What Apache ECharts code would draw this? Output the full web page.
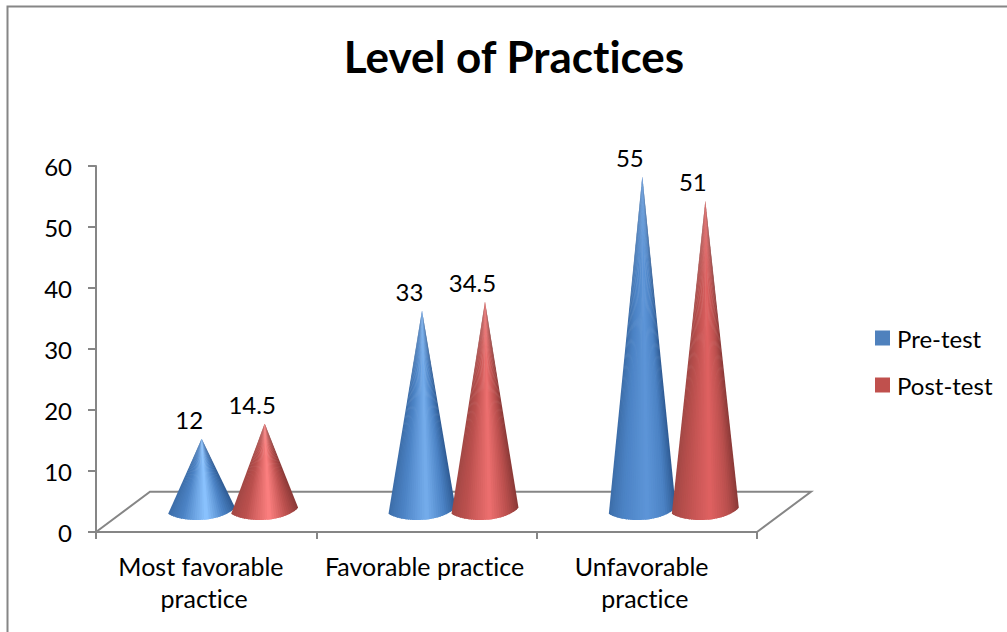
<!DOCTYPE html>
<html>
<head>
<meta charset="utf-8">
<title>Level of Practices</title>
<script src="https://cdn.jsdelivr.net/npm/echarts@6/dist/echarts.min.js"></script>
<style>
  html, body { margin: 0; padding: 0; background: #fff; }
  #chart { width: 1007px; height: 632px; }
  #chart text { font-variant-ligatures: none; }
</style>
</head>
<body>
<div id="chart"></div>
<script>
const categories = ['Most favorable practice', 'Favorable practice', 'Unfavorable practice'];
const preTest = [12, 33, 55];
const postTest = [14.5, 34.5, 51];

const FONT = 'Lato, "Open Sans", sans-serif';
const AXIS_GREY = '#868686';

// Depth of the chart floor: horizontal share of a category band, and height in value units.
const DEPTH_X = 0.245;
const DEPTH_VALUE = 6.6;
const CONE_SHIFT = 0.143;      // cone centre offset from the band centre, in bands
const CONE_HALF_WIDTH = 0.152; // base half width, in bands
const SLICES = 32;
const PEAK = 0.56;             // where the highlight sits across the cone

function hex(c) { return [1, 3, 5].map(i => parseInt(c.substr(i, 2), 16)); }
function toHex(v) { return ('0' + Math.round(v).toString(16)).slice(-2); }
function mix(a, b, t) {
  const A = hex(a), B = hex(b);
  return '#' + A.map((v, i) => toHex(v + (B[i] - v) * t)).join('');
}
function shadeAt(stops, t) {
  for (let i = 1; i < stops.length; i++) {
    if (t <= stops[i][0]) {
      const s = (t - stops[i - 1][0]) / (stops[i][0] - stops[i - 1][0]);
      return mix(stops[i - 1][1], stops[i][1], s);
    }
  }
  return stops[stops.length - 1][1];
}

const BLUE = { edgeL: '#3c6da8', side: '#4b82c4', edgeR: '#2e5a92', low: '#8cc4ff', high: '#5d95d8' };
const RED = { edgeL: '#a14744', side: '#bb504e', edgeR: '#883836', low: '#ff8282', high: '#dc5e5e' };

// Floor outline: the two receding sides and the back edge; the front edge is the category axis.
function renderFloor(params, api) {
  const cs = params.coordSys;
  const band = cs.width / categories.length;
  const y0 = api.coord([0, 0])[1];
  const dx = band * DEPTH_X;
  const dy = api.size([0, DEPTH_VALUE])[1];
  return {
    type: 'polyline',
    shape: { points: [
      [cs.x, y0], [cs.x + dx, y0 - dy],
      [cs.x + cs.width + dx, y0 - dy], [cs.x + cs.width, y0]
    ] },
    style: { stroke: AXIS_GREY, lineWidth: 2, fill: 'none' }
  };
}

// One cone: wedges from the apex to a curved base give the rounded shading.
// Outer wedges are painted first and each reaches under its inner neighbour, so no seams show.
function coneRenderer(side, palette) {
  return function (params, api) {
    const idx = api.value(0);
    const value = api.value(1);
    const band = api.size([1, 0])[0];
    const dy = api.size([0, DEPTH_VALUE])[1] / 2;
    const dx = band * DEPTH_X / 2;
    const top = api.coord([idx, value]);
    const zero = api.coord([idx, 0]);
    const cx = top[0] + dx + side * band * CONE_SHIFT;
    const tipY = top[1] - dy;
    const baseY = zero[1] - dy;
    const hw = band * CONE_HALF_WIDTH;

    const highlight = mix(palette.low, palette.high, Math.min(1, Math.max(0, (value - 12) / 43)));
    const stops = [[0, palette.edgeL], [0.24, palette.side], [PEAK, highlight], [0.8, palette.side], [1, palette.edgeR]];

    // Base rim runs from the left point, under the cone, to the slightly raised right point.
    const p0 = [cx - hw, baseY + 2];
    const p1 = [cx - hw * 0.55, baseY + 11];
    const p2 = [cx + hw * 0.55, baseY + 11];
    const p3 = [cx + hw, baseY - 4];
    const rim = t => {
      const u = 1 - t;
      return [0, 1].map(k => u * u * u * p0[k] + 3 * u * u * t * p1[k] + 3 * u * t * t * p2[k] + t * t * t * p3[k]);
    };

    const order = [];
    for (let i = 0; i < SLICES; i++) order.push(i);
    const centre = SLICES * PEAK;
    order.sort((m, n) => Math.abs(n + 0.5 - centre) - Math.abs(m + 0.5 - centre));

    const children = order.map(i => {
      const a = i / SLICES, b = (i + 1) / SLICES;
      const overlap = 0.6 / SLICES;
      const lo = i + 0.5 > centre ? Math.max(0, a - overlap) : a;
      const hi = i + 0.5 < centre ? Math.min(1, b + overlap) : b;
      const pts = [[cx, tipY]];
      for (let s = 0; s <= 3; s++) pts.push(rim(lo + (hi - lo) * s / 3));
      return { type: 'polygon', shape: { points: pts }, style: { fill: shadeAt(stops, (a + b) / 2) } };
    });
    children.push({
      type: 'text',
      style: {
        x: cx - 12.5, y: tipY - 19, text: String(value),
        font: '24px ' + FONT, fill: '#000', align: 'center', verticalAlign: 'middle'
      }
    });
    return { type: 'group', children };
  };
}

const chart = echarts.init(document.getElementById('chart'), null, { renderer: 'svg' });

chart.setOption({
  animation: false,
  backgroundColor: '#fff',
  title: {
    text: 'Level of Practices',
    left: 509, top: 29, textAlign: 'center',
    textStyle: { fontFamily: FONT, fontWeight: 'bold', fontSize: 44, color: '#000' }
  },
  graphic: [{
    type: 'polyline',
    silent: true,
    shape: { points: [[7.5, 640], [7.5, 6.5], [1015, 6.5]] },
    style: { stroke: '#868686', lineWidth: 2, fill: 'none' }
  }],
  legend: {
    orient: 'vertical',
    left: 870, top: 321,
    itemWidth: 15, itemHeight: 15, itemGap: 23,
    icon: 'rect',
    data: ['Pre-test', 'Post-test'],
    textStyle: { fontFamily: FONT, fontSize: 24, color: '#000', padding: [0, 0, 0, 2] }
  },
  grid: { left: 96, right: 250, top: 166, bottom: 100 },
  xAxis: {
    type: 'category',
    data: categories,
    axisLine: { lineStyle: { color: AXIS_GREY, width: 2 } },
    axisTick: { show: true, length: 7, lineStyle: { color: AXIS_GREY, width: 2 } },
    axisLabel: {
      interval: 0, margin: 18, width: 205, overflow: 'break',
      fontFamily: FONT, fontSize: 25, lineHeight: 32, color: '#000',
      padding: [0, 4, 0, 0]
    }
  },
  yAxis: {
    type: 'value',
    min: 0, max: 60, interval: 10,
    splitLine: { show: false },
    axisLine: { show: true, lineStyle: { color: AXIS_GREY, width: 2 } },
    axisTick: { show: true, length: 8, lineStyle: { color: AXIS_GREY, width: 2 } },
    axisLabel: { margin: 24, fontFamily: FONT, fontSize: 24, color: '#000', padding: [5, 0, 0, 0] }
  },
  series: [
    {
      type: 'custom', name: 'floor', coordinateSystem: 'cartesian2d',
      renderItem: renderFloor, data: [[0, 0]], silent: true, clip: false, z: 1
    },
    {
      type: 'custom', name: 'Pre-test', coordinateSystem: 'cartesian2d',
      renderItem: coneRenderer(-1, BLUE), clip: false, z: 2,
      itemStyle: { color: '#4f81bd' },
      encode: { x: 0, y: 1 },
      data: preTest.map((v, i) => [i, v])
    },
    {
      type: 'custom', name: 'Post-test', coordinateSystem: 'cartesian2d',
      renderItem: coneRenderer(1, RED), clip: false, z: 3,
      itemStyle: { color: '#c0504d' },
      encode: { x: 0, y: 1 },
      data: postTest.map((v, i) => [i, v])
    }
  ]
});
</script>
</body>
</html>
